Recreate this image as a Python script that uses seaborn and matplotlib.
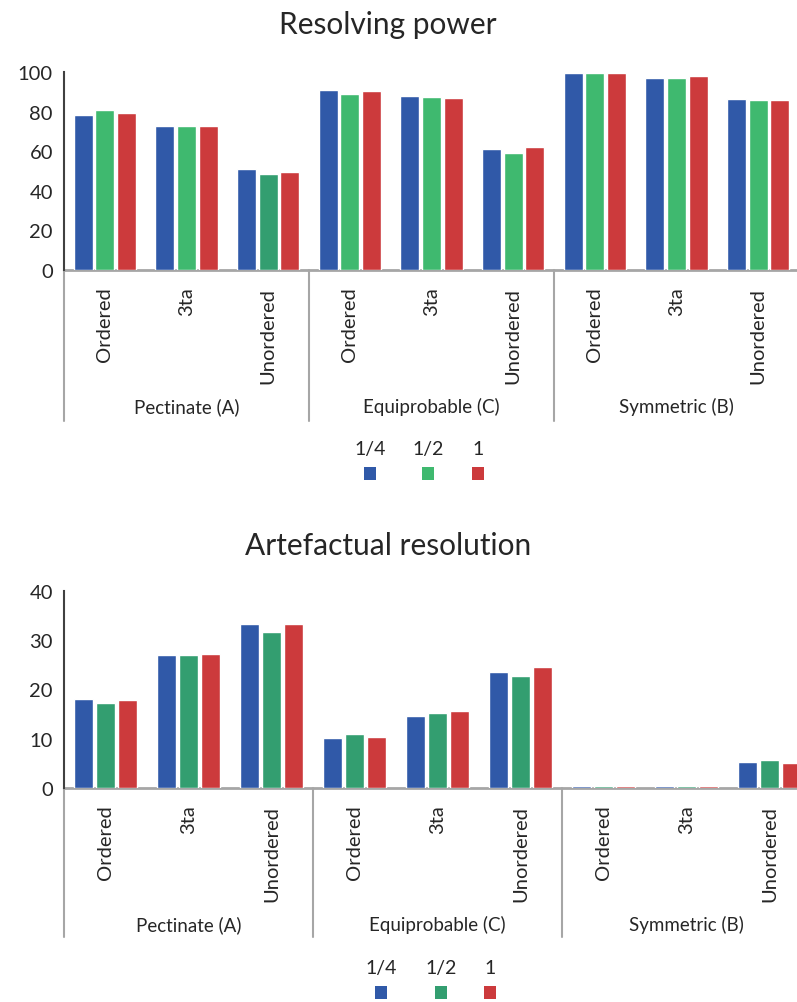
import numpy as np
import pandas as pd
import matplotlib
matplotlib.use("Agg")
import matplotlib.pyplot as plt
import matplotlib.transforms as mtransforms
from matplotlib.patches import Rectangle
import seaborn as sns

# dados
groups = ["Pectinate (A)", "Equiprobable (C)", "Symmetric (B)"]
methods = ["Ordered", "3ta", "Unordered"]
weights = ["1/4", "1/2", "1"]

resolving_q = [78.3, 72.7, 51.0, 90.9, 87.9, 61.1, 99.5, 97.0, 86.4]
resolving_h = [80.8, 72.7, 48.5, 88.9, 87.4, 59.1, 99.5, 97.0, 85.9]
resolving_1 = [79.3, 72.7, 49.5, 90.4, 86.9, 62.1, 99.5, 98.0, 85.9]

artefact_q = [18.0, 27.0, 33.4, 10.1, 14.7, 23.5, 0.4, 0.4, 5.3]
artefact_h = [17.2, 27.0, 31.6, 10.9, 15.3, 22.7, 0.4, 0.4, 5.7]
artefact_1 = [17.8, 27.2, 33.4, 10.4, 15.7, 24.5, 0.4, 0.4, 5.1]

BLUE = "#3059a8"
GREEN_LIGHT = "#3fb96f"
GREEN_DARK = "#339e70"
RED = "#cc3a3c"
GREY = "#a6a6a6"
DARK = "#404040"
TXT = "#262626"

sns.set_style("white")
plt.rcParams["font.family"] = ["Lato", "DejaVu Sans"]

W, H = 797, 1003


def fy(px):
    return 1 - px / H


def make_df(q, h, one):
    rows = []
    for i, key in enumerate([f"{g}|{m}" for g in groups for m in methods]):
        for w, vals in zip(weights, [q, h, one]):
            rows.append({"cat": key, "weight": w, "value": vals[i]})
    return pd.DataFrame(rows)


def draw_panel(ax, df, green, ymax, yticks, title, title_y, sep_bottom, group_y, legend_y):
    palette = {"1/4": BLUE, "1/2": green, "1": RED}
    sns.barplot(data=df, x="cat", y="value", hue="weight", hue_order=weights,
                palette=palette, saturation=1, width=0.8, gap=0.13,
                errorbar=None, legend=False, ax=ax)
    ax.set_xlim(-0.5, 8.5)
    ax.set_ylim(0, ymax)
    ax.set_yticks(yticks)
    ax.set_xlabel("")
    ax.set_ylabel("")
    ax.set_xticks(range(9))
    ax.set_xticklabels(methods * 3, rotation=90, fontsize=14.5, color=TXT)
    ax.tick_params(axis="x", length=0, pad=12)
    ax.tick_params(axis="y", length=5, width=1.5, color=DARK, labelsize=14.5,
                   labelcolor=TXT, pad=3)
    for s in ["top", "right"]:
        ax.spines[s].set_visible(False)
    ax.spines["left"].set_color(DARK)
    ax.spines["left"].set_linewidth(1.5)
    ax.spines["bottom"].set_color(GREY)
    ax.spines["bottom"].set_linewidth(2)
    ax.spines["bottom"].set_zorder(0.5)
    for bar in ax.patches:
        bar.set_zorder(3)

    # separadores dos grupos
    tr = mtransforms.blended_transform_factory(ax.transData, ax.figure.transFigure)
    y0 = ax.get_position().y0
    for xb in [-0.5, 2.5, 5.5]:
        ax.plot([xb, xb], [y0, fy(sep_bottom)], color=GREY, lw=1.5,
                transform=tr, clip_on=False)
    for i, g in enumerate(groups):
        ax.text(3 * i + 1, fy(group_y), g, transform=tr, ha="center", va="center",
                fontsize=13.5, color=TXT)

    ax.figure.text(0.487, fy(title_y), title, ha="center", va="center",
                   fontsize=21.5, color=TXT)

    # legenda manual: rotulo acima do quadrado
    lx = [370, 428, 478] if legend_y < 600 else [381, 441, 490]
    for x, w, c in zip(lx, weights, [BLUE, green, RED]):
        ax.figure.text(x / W, fy(legend_y), w, ha="center", va="center",
                       fontsize=14, color=TXT)
        ax.figure.patches.append(Rectangle(((x - 6) / W, fy(legend_y + 31)), 12 / W, 13 / H,
                                           transform=ax.figure.transFigure,
                                           facecolor=c, edgecolor="none"))


fig = plt.figure(figsize=(W / 100, H / 100), dpi=100)

ax1 = fig.add_axes([64 / W, fy(271), 735 / W, 198 / H])
df1 = make_df(resolving_q, resolving_h, resolving_1)
draw_panel(ax1, df1, GREEN_LIGHT, 100, [0, 20, 40, 60, 80, 100],
           "Resolving power", 25, 422, 407, 450)
# barra "Unordered" do Pectinate tem verde mais escuro no original
ax1.containers[1][2].set_facecolor(GREEN_DARK)

ax2 = fig.add_axes([64 / W, fy(789), 747 / W, 197 / H])
df2 = make_df(artefact_q, artefact_h, artefact_1)
draw_panel(ax2, df2, GREEN_DARK, 40, [0, 10, 20, 30, 40],
           "Artefactual resolution", 546, 938, 925, 969)

fig.savefig("out.png", dpi=100)
